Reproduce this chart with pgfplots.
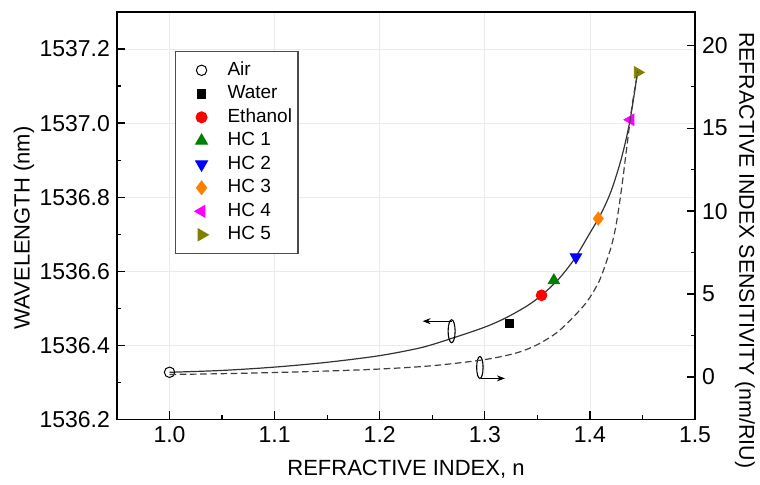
\documentclass[border=0pt]{standalone}
\usepackage{pgfplots}
\pgfplotsset{compat=1.18}
\usepackage{fontspec}
\setmainfont{Liberation Sans}
\usetikzlibrary{arrows.meta}
\definecolor{hcgreen}{RGB}{0,128,0}
\definecolor{hcblue}{RGB}{0,0,255}
\definecolor{hcorange}{RGB}{255,128,0}
\definecolor{hcmagenta}{RGB}{255,0,255}
\definecolor{hcolive}{RGB}{128,128,0}
\pgfplotsset{mylegend/.style={legend image code/.code={\path[draw=none,fill=none] (0pt,0pt) (23pt,0pt); \draw[##1] plot coordinates {(12pt,0pt)};}}}
\begin{document}
\begin{tikzpicture}
\pgfplotsset{
  every axis/.append style={
    scale only axis, width=289pt, height=203.65pt,
    xmin=0.95, xmax=1.5,
    /pgf/number format/assume math mode=true,
    scaled x ticks=false, scaled y ticks=false,
    tick label style={font=\fontsize{11.5}{13}\selectfont},
    label style={font=\fontsize{11}{13}\selectfont},
    axis line style={line width=0.75pt},
    tick style={line width=0.6pt, black},
    major tick length=4pt, minor tick length=2.2pt,
    tick align=inside,
  }
}
\begin{axis}[
  name=main,
  ymin=1536.2, ymax=1537.3,
  xtick={1.0,1.1,1.2,1.3,1.4,1.5}, minor x tick num=1,
  ytick={1536.2,1536.4,1536.6,1536.8,1537.0,1537.2}, minor y tick num=1,
  xtick pos=bottom, ytick pos=left,
  grid=major, major grid style={black!8, line width=0.4pt},
  xticklabel style={/pgf/number format/.cd, fixed, fixed zerofill, precision=1},
  yticklabel style={/pgf/number format/.cd, fixed, fixed zerofill, precision=1, 1000 sep={}},
  xlabel={REFRACTIVE INDEX, n},
  ylabel={WAVELENGTH (nm)},
  xlabel style={at={(axis description cs:0.5,-0.1223)}, anchor=center},
  ylabel style={at={(axis description cs:-0.1609,0.47)}, anchor=center},
  legend style={at={(0.1003,0.905)}, anchor=north west, draw=black!70, line width=0.6pt,
    font=\fontsize{9.5}{11}\selectfont, inner xsep=1pt, inner ysep=4.5pt, row sep=1.75pt,
    nodes={inner ysep=0.5pt, text height=7pt, text depth=2pt}},
  legend cell align=left,
]
\addplot[smooth, black!80, line width=0.6pt, forget plot] coordinates {
 (1.0,1536.327) (1.05,1536.332) (1.1,1536.341) (1.15,1536.354) (1.2,1536.372)
 (1.24,1536.394) (1.27,1536.420) (1.3,1536.449) (1.32,1536.474) (1.34,1536.506)
 (1.354,1536.535) (1.37,1536.578) (1.385,1536.632) (1.40,1536.703) (1.41,1536.752)
 (1.42,1536.815) (1.43,1536.905) (1.438,1537.005) (1.4455,1537.14)
};
\addplot[only marks, mylegend, mark=o, mark size=2.6pt, black, mark options={line width=0.5pt}] coordinates {(1.0,1536.327)};
\addlegendentry{Air}
\addplot[only marks, mylegend, mark=square*, mark size=2.1pt, black] coordinates {(1.3232,1536.459)};
\addlegendentry{Water}
\addplot[only marks, mylegend, mark=*, mark size=2.7pt, red] coordinates {(1.354,1536.535)};
\addlegendentry{Ethanol}
\addplot[only marks, mylegend, mark=triangle*, mark size=3.3pt, hcgreen] coordinates {(1.3657,1536.575)};
\addlegendentry{HC 1}
\addplot[only marks, mylegend, mark=triangle*, mark size=3.3pt, hcblue, mark options={rotate=180}] coordinates {(1.3867,1536.638)};
\addlegendentry{HC 2}
\addplot[only marks, mylegend, mark=diamond*, mark size=3.3pt, hcorange] coordinates {(1.408,1536.742)};
\addlegendentry{HC 3}
\addplot[only marks, mylegend, mark=triangle*, mark size=3.3pt, hcmagenta, mark options={rotate=90}] coordinates {(1.4387,1537.009)};
\addlegendentry{HC 4}
\addplot[only marks, mylegend, mark=triangle*, mark size=3.3pt, hcolive, mark options={rotate=-90}] coordinates {(1.4454,1537.137)};
\addlegendentry{HC 5}
\draw[line width=0.55pt] (axis cs:1.2684,1536.438) ellipse [x radius=1.75pt, y radius=5.75pt];
\draw[line width=0.55pt, -{Stealth[length=4pt,width=3pt]}] (axis cs:1.2684,1536.465) -- (axis cs:1.2408,1536.465);
\draw[line width=0.55pt] (axis cs:1.2953,1536.340) ellipse [x radius=1.6pt, y radius=5.5pt];
\draw[line width=0.55pt, -{Stealth[length=4pt,width=3pt]}] (axis cs:1.2968,1536.3105) -- (axis cs:1.3191,1536.3105);
\end{axis}
\begin{axis}[
  ymin=-2.55, ymax=22,
  axis y line*=right, axis x line=none,
  ytick={0,5,10,15,20}, minor y tick num=1,
  ylabel={REFRACTIVE INDEX SENSITIVITY (nm/RIU)},
  ylabel style={at={(axis description cs:1.0865,0.415)}, anchor=center, rotate=180, font=\fontsize{10.7}{13}\selectfont},
]
\addplot[smooth, black!75, line width=0.6pt, dash pattern=on 3.3pt off 1.8pt] coordinates {
 (1.0,0.15) (1.05,0.2) (1.1,0.27) (1.15,0.36) (1.2,0.48) (1.25,0.68) (1.3,1.05)
 (1.33,1.45) (1.35,1.95) (1.37,2.75) (1.39,4.0) (1.40,4.8) (1.41,5.95) (1.42,7.8)
 (1.425,9.2) (1.43,11.3) (1.435,13.8) (1.44,16.3) (1.4455,18.4)
};
\end{axis}
\pgfresetboundingbox
\path ([shift={(-58.5pt,-32.35pt)}]main.south west) rectangle ([shift={(32.5pt,6pt)}]main.north east);
\end{tikzpicture}
\end{document}
